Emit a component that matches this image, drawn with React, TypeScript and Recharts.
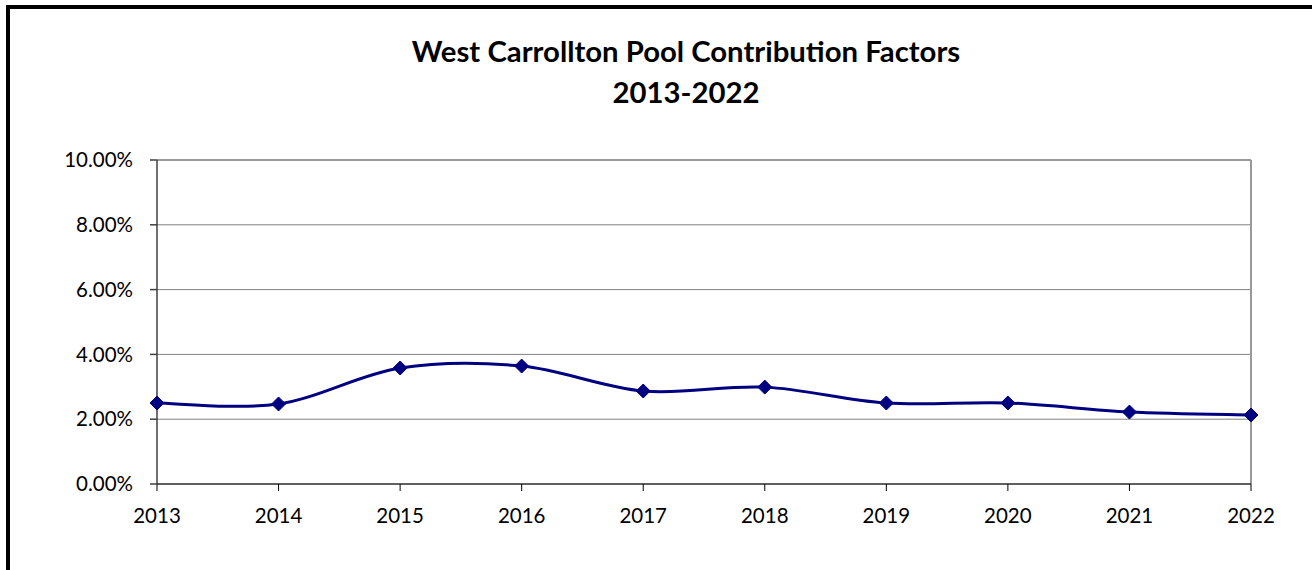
import React from 'react';
import { LineChart, Line, XAxis, YAxis, CartesianGrid, ReferenceLine } from 'recharts';

const years = ['2013', '2014', '2015', '2016', '2017', '2018', '2019', '2020', '2021', '2022'];
const factors = [0.025, 0.0247, 0.0358, 0.0364, 0.0287, 0.0299, 0.025, 0.025, 0.0222, 0.0213];
const yTicks = [0, 0.02, 0.04, 0.06, 0.08, 0.1];

const data = years.map((year, i) => ({ year, value: factors[i] }));

const NAVY = '#000080';
const FONT = 'Lato, "Open Sans", sans-serif';

// Excel-style smoothing (Catmull-Rom through the points)
const smoothCurve = (context: any) => {
  let pts: [number, number][] = [];
  return {
    areaStart() {},
    areaEnd() {},
    lineStart() {
      pts = [];
    },
    point(x: number, y: number) {
      pts.push([+x, +y]);
    },
    lineEnd() {
      if (!pts.length) return;
      context.moveTo(pts[0][0], pts[0][1]);
      for (let i = 0; i < pts.length - 1; i++) {
        const p0 = pts[i - 1] || pts[i];
        const p1 = pts[i];
        const p2 = pts[i + 1];
        const p3 = pts[i + 2] || p2;
        context.bezierCurveTo(
          p1[0] + (p2[0] - p0[0]) / 6,
          p1[1] + (p2[1] - p0[1]) / 6,
          p2[0] - (p3[0] - p1[0]) / 6,
          p2[1] - (p3[1] - p1[1]) / 6,
          p2[0],
          p2[1]
        );
      }
    },
  };
};

const Diamond = ({ cx, cy, index }: any) => {
  const r = 7;
  return (
    <polygon
      key={`d-${index}`}
      points={`${cx},${cy - r} ${cx + r},${cy} ${cx},${cy + r} ${cx - r},${cy}`}
      fill={NAVY}
      stroke={NAVY}
    />
  );
};

export default function App() {
  return (
    <div style={{ position: 'absolute', left: 0, top: 0, width: 1312, height: 570, background: '#fff', overflow: 'hidden' }}>
      <div
        style={{
          position: 'absolute',
          left: 6,
          top: 5,
          width: 1302,
          height: 580,
          borderLeft: '4px solid #000',
          borderTop: '4px solid #000',
          borderRight: '2px solid #000',
        }}
      />
      <div
        style={{
          position: 'absolute',
          left: 0,
          width: 1372,
          top: 30,
          textAlign: 'center',
          fontFamily: FONT,
          fontWeight: 'bold',
          fontSize: 29.3,
          lineHeight: '41px',
          color: '#000',
        }}
      >
        West Carrollton Pool Contribution Factors
        <br />
        2013-2022
      </div>
      <div style={{ position: 'absolute', left: 0, top: 0 }}>
        <LineChart width={1312} height={570} data={data} margin={{ top: 160, right: 61, bottom: 46, left: 57 }}>
          <CartesianGrid vertical={false} stroke="#808080" strokeWidth={1} />
          <ReferenceLine x="2022" stroke="#999" strokeWidth={2} />
          <ReferenceLine y={0.1} stroke="#999" strokeWidth={2} />
          <XAxis
            dataKey="year"
            height={40}
            padding={{ left: 0, right: 0 }}
            stroke="#000"
            tickSize={7}
            tickMargin={17}
            tick={{ fill: '#000', fontSize: 20.5, fontFamily: FONT }}
            interval={0}
          />
          <YAxis
            width={100}
            domain={[0, 0.1]}
            ticks={yTicks}
            stroke="#404040"
            strokeWidth={1.5}
            tickSize={7}
            tickMargin={17}
            tickFormatter={(v: number) => `${(v * 100).toFixed(2)}%`}
            tick={{ fill: '#000', fontSize: 20.5, fontFamily: FONT }}
          />
          <Line
            dataKey="value"
            type={smoothCurve as any}
            stroke={NAVY}
            strokeWidth={3}
            dot={<Diamond />}
            activeDot={false}
            isAnimationActive={false}
          />
        </LineChart>
      </div>
    </div>
  );
}
